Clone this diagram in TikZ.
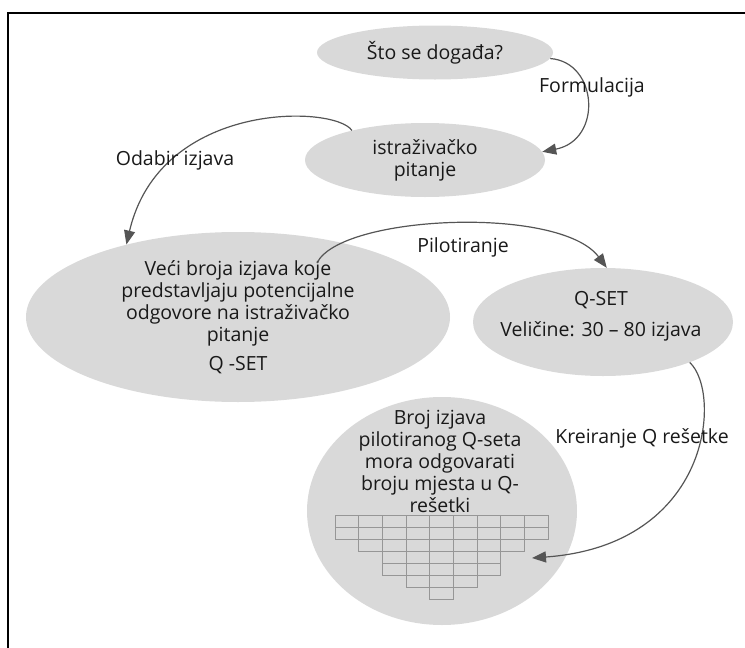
\documentclass[tikz,border=0pt]{standalone}
\usepackage{fontspec}
\setmainfont{Open Sans}
\usetikzlibrary{shapes.geometric,arrows.meta}
\definecolor{shapefill}{RGB}{217,217,217}
\definecolor{arrowgray}{RGB}{85,85,85}
\definecolor{gridgray}{RGB}{150,150,150}
\definecolor{textdark}{RGB}{25,25,25}
\begin{document}
\begin{tikzpicture}[x=1pt,y=-1pt,
  blob/.style={ellipse,fill=shapefill,draw=none,inner sep=0pt},
  txt/.style={font=\fontsize{19.5}{22}\selectfont,text=textdark,align=center,inner sep=0pt},
  flow/.style={draw=arrowgray,line width=1.2pt,-{Triangle[length=14pt,width=11pt]}},
  cell/.style={draw=gridgray,line width=0.8pt},
  borderline/.style={line width=2pt,draw=black}]
\useasboundingbox (0,0) rectangle (745,648);
\draw[borderline] (8,648) -- (8,13) -- (745,13);

% shapes
\node[blob,txt,minimum width=236pt,minimum height=54pt] (q1) at (435,52.5) {Što se događa?};
\node[blob,txt,minimum width=240pt,minimum height=74pt] (q2) at (425,160) {istraživačko\\pitanje};
\node[blob,txt,minimum width=424pt,minimum height=170pt] (q3) at (238,317) {Veći broja izjava koje\\predstavljaju potencijalne\\odgovore na istraživačko\\pitanje\\[7pt]Q -SET};
\node[blob,minimum width=260pt,minimum height=108pt] (q4) at (603,322) {};
\node[txt] (t4) at (601,316) {Q-SET\\[9pt]Veličine: 30 – 80 izjava};
\node[blob,minimum width=270pt,minimum height=228pt] (q5) at (442,511) {};
\node[txt] (t5) at (440,461) {Broj izjava\\pilotiranog Q-seta\\mora odgovarati\\broju mjesta u Q-\\rešetki};

% grid
\foreach \i/\n in {0/2,1/3,2/5,3/6,4/7,5/6,6/5,7/3,8/2}{
  \foreach \j in {1,...,\n}{
    \draw[cell] ({335+23.67*\i},{515+12.1*(\j-1)}) rectangle ++(23.67,12.1);
  }
}

% free ends
\coordinate (p3s) at (317,263);
\coordinate (p4e) at (532,558);

% connectors
\draw[flow] (q1.-3) .. controls (598,62) and (603,140) .. (q2.4);
\draw[flow] (q2.158) .. controls (335,105) and (160,100) .. (q3.147);
\draw[flow] (p3s) .. controls (340,215) and (560,205) .. (q4.86);
\draw[flow] (q4.-25) .. controls (722,392) and (712,545) .. (p4e);

% labels
\node[txt] (lf) at (592,87) {Formulacija};
\node[txt] (lo) at (175,160) {Odabir izjava};
\node[txt] (lp) at (463,247) {Pilotiranje};
\node[txt] (lk) at (642,438) {Kreiranje Q rešetke};
\end{tikzpicture}
\end{document}
